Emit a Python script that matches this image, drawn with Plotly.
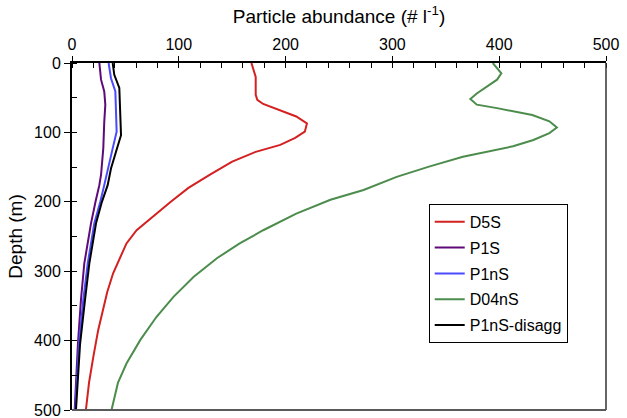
import plotly.graph_objects as go

# Depth (m) and particle abundance (# l^-1) per profile
d5s_depth = [0, 20, 46, 53, 59, 68, 77, 87, 99, 108, 118, 128, 142, 160, 180, 200, 220, 241, 260, 280, 303, 330, 351, 385, 423, 460, 500]
d5s_vals = [168, 172, 172, 173.5, 179, 195, 210, 220, 218, 209, 195, 172, 150, 130, 109, 92.5, 77, 60.5, 51, 45, 38.5, 33, 29.5, 24.5, 20, 16, 13]

p1s_depth = [0, 24, 41, 60, 85, 123, 161, 176, 200, 231, 289, 341, 406, 500]
p1s_vals = [25.6, 27.2, 30.2, 31.2, 30.2, 29.3, 27.2, 25.6, 22, 17.8, 11.5, 8.4, 5.5, 2.5]

p1ns_depth = [0, 22, 41, 70, 99, 123, 152, 176, 200, 231, 289, 341, 406, 500]
p1ns_vals = [34.3, 36.5, 40.6, 41.2, 41.8, 38.1, 33.4, 30.2, 26.5, 20.9, 14.7, 10.6, 6.5, 3]

d04ns_depth = [0, 15, 24, 44, 52, 60, 65, 70, 75, 84, 93, 101, 111, 120, 125, 135, 149, 164, 183, 197, 217, 241, 260, 281, 308, 337, 366, 399, 433, 461, 500]
d04ns_vals = [394, 402, 398, 379, 373, 379, 398, 416, 431, 447, 454, 447, 432, 413, 398, 366, 335, 304, 273, 242, 210, 179, 157, 136, 114, 95, 79, 64, 51, 43, 37]

p1nsd_depth = [0, 17, 36, 85, 104, 128, 152, 176, 200, 231, 289, 341, 406, 500]
p1nsd_vals = [38.1, 39.6, 44.3, 45.9, 45.9, 41.2, 36.5, 33.4, 28, 22.5, 16.2, 12.2, 7.5, 3.7]

x_ticks = [0, 100, 200, 300, 400, 500]
y_ticks = [0, 100, 200, 300, 400, 500]

series = [
    ("D5S", d5s_vals, d5s_depth, "#d42020"),
    ("P1S", p1s_vals, p1s_depth, "#5e0a78"),
    ("P1nS", p1ns_vals, p1ns_depth, "#4a4aff"),
    ("D04nS", d04ns_vals, d04ns_depth, "#4c8c4c"),
    ("P1nS-disagg", p1nsd_vals, p1nsd_depth, "#000000"),
]

FONT = "Liberation Sans, Arial, sans-serif"

fig = go.Figure()
for i, (name, xv, yv, col) in enumerate(series):
    fig.add_trace(go.Scatter(x=xv, y=yv, mode="lines", name=name,
                             legendgroup=f"g{i}",
                             line=dict(color=col, width=2)))

fig.update_layout(
    width=627, height=418,
    margin=dict(l=72, r=21, t=63, b=8, autoexpand=False),
    paper_bgcolor="white", plot_bgcolor="white",
    font=dict(family=FONT, size=16, color="black"),
    showlegend=True,
    legend=dict(x=0.668, y=0.594, xanchor="left", yanchor="top",
                bordercolor="black", borderwidth=1, bgcolor="white",
                font=dict(family=FONT, size=16),
                tracegroupgap=2, itemwidth=30),
    xaxis=dict(side="top", range=[0, 500], tickvals=x_ticks,
               ticktext=[str(v) for v in x_ticks],
               showgrid=False, zeroline=False, automargin=False,
               showline=True, linecolor="black", linewidth=2,
               ticks="outside", ticklen=5, tickwidth=1, tickcolor="black",
               ticklabeloverflow="allow",
               minor=dict(dtick=20, tick0=0, ticks="inside", ticklen=5, tickcolor="black", showgrid=False),
               title=dict(text="Particle abundance (# l<sup>-1</sup>)",
                          font=dict(family=FONT, size=19), standoff=7)),
    yaxis=dict(range=[500, 0], tickvals=y_ticks,
               ticktext=[str(v) for v in y_ticks],
               showgrid=False, zeroline=False, automargin=False,
               showline=True, linecolor="black", linewidth=2,
               ticks="outside", ticklen=6, tickwidth=1, tickcolor="black",
               ticklabeloverflow="allow",
               minor=dict(dtick=50, tick0=0, ticks="inside", ticklen=5, tickcolor="black", showgrid=False),
               title=dict(text="Depth (m)", font=dict(family=FONT, size=19), standoff=6)),
    shapes=[
        dict(type="line", xref="paper", yref="paper", x0=1, x1=1, y0=0, y1=1,
             line=dict(color="#333333", width=1.5)),
        dict(type="line", xref="paper", yref="paper", x0=0, x1=1, y0=0, y1=0,
             line=dict(color="#5a5a5a", width=2)),
    ],
)

fig.write_html("out.html")
